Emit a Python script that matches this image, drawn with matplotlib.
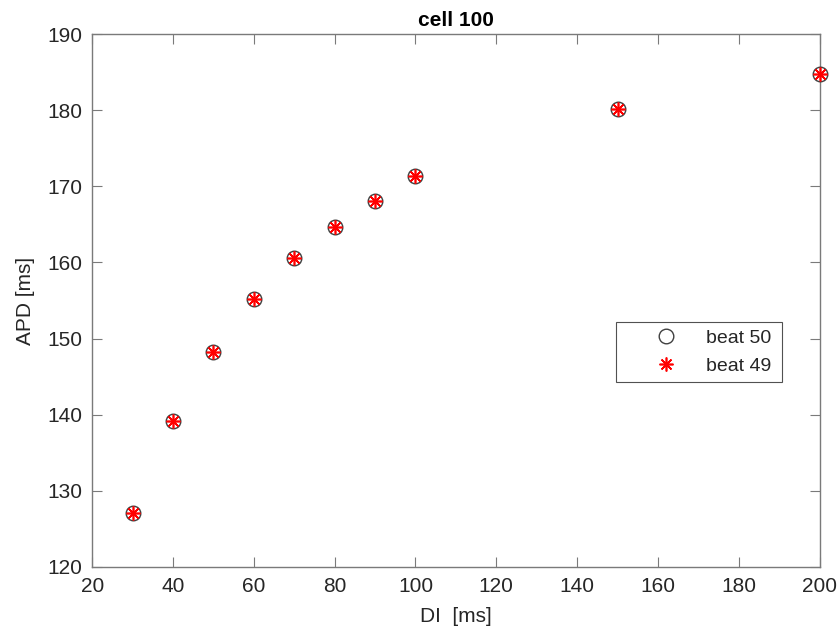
import matplotlib
matplotlib.use("Agg")
import matplotlib.pyplot as plt

plt.rcParams['font.family'] = ['Liberation Sans', 'DejaVu Sans']

di = [30, 40, 50, 60, 70, 80, 90, 100, 150, 200]
apd_beat50 = [127.1, 139.2, 148.3, 155.2, 160.6, 164.7, 168.1, 171.3, 180.2, 184.8]
apd_beat49 = [127.1, 139.2, 148.3, 155.2, 160.6, 164.7, 168.1, 171.3, 180.2, 184.8]
xticks = [20, 40, 60, 80, 100, 120, 140, 160, 180, 200]
yticks = [120, 130, 140, 150, 160, 170, 180, 190]

fig = plt.figure(figsize=(8.38, 6.32), dpi=100)
ax = fig.add_axes([0.110, 0.103, 0.868, 0.843])

ax.plot(di, apd_beat50, linestyle='none', marker='o', markersize=10.5,
        markerfacecolor='none', markeredgecolor='#404040', markeredgewidth=1.0,
        label='beat 50', clip_on=False, zorder=3)
ax.plot(di, apd_beat49, linestyle='none', marker=(8, 2, 0), markersize=10,
        color='red', markeredgewidth=1.2, label='beat 49', clip_on=False, zorder=4)

ax.set_xlim(20, 200)
ax.set_ylim(120, 190)
ax.set_xticks(xticks)
ax.set_yticks(yticks)

axis_color = '#262626'
for s in ax.spines.values():
    s.set_color('#7a7a7a')
    s.set_linewidth(1.0)
ax.tick_params(direction='in', length=7, width=0.8, color='#7a7a7a',
               top=True, right=True, labelsize=15, labelcolor=axis_color, pad=7)

ax.set_xlabel('DI  [ms]', fontsize=15, color=axis_color, labelpad=8)
ax.set_ylabel('APD [ms]', fontsize=15, color=axis_color, labelpad=9)
ax.set_title('cell 100', fontsize=15, fontweight='bold', color='black', pad=6)

leg = ax.legend(loc='upper left', bbox_to_anchor=(0.72, 0.345, 0.229, 0.115),
                mode='expand', fontsize=14, frameon=True, fancybox=False,
                borderpad=0.4, handlelength=4.35, handletextpad=-0.1,
                labelspacing=0.5, borderaxespad=0)
leg.get_frame().set_edgecolor('#262626')
leg.get_frame().set_linewidth(0.8)
for t in leg.get_texts():
    t.set_color(axis_color)

fig.savefig('out.png', dpi=100, facecolor='white')
